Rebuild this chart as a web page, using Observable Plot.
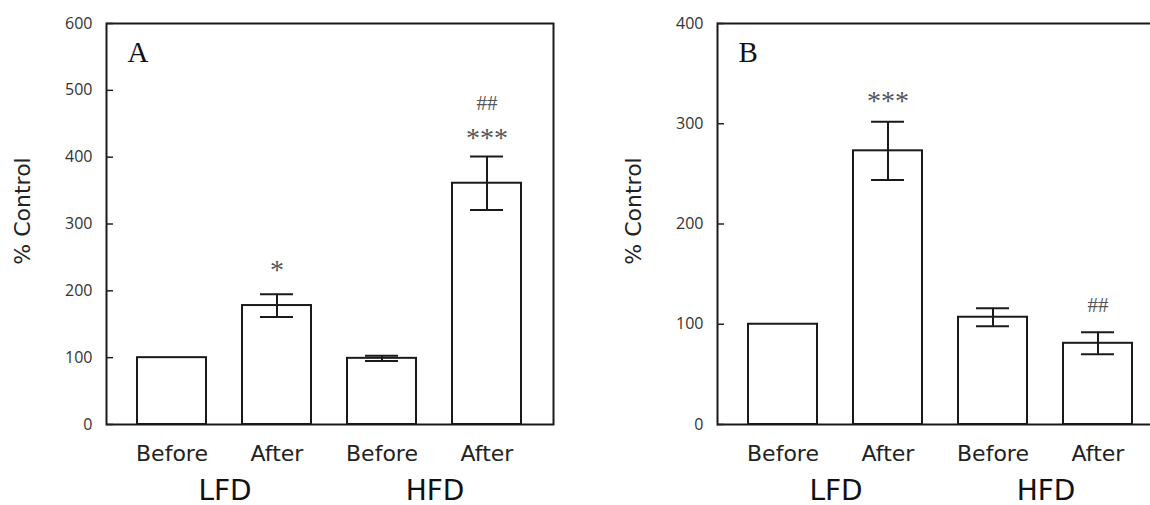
<!DOCTYPE html>
<html>
<head>
<meta charset="utf-8">
<script src="https://cdn.jsdelivr.net/npm/d3@7"></script>
<script src="https://cdn.jsdelivr.net/npm/@observablehq/plot@0.6"></script>
<style>
  html, body { margin: 0; padding: 0; background: #fff; overflow: hidden; width: 1150px; height: 505px; }
  #wrap { position: relative; width: 1150px; height: 505px; overflow: hidden; }
  .panel { position: absolute; top: 0; height: 505px; overflow: hidden; }
  .panel svg { max-width: none !important; overflow: hidden !important; display: block; }
  #panelA { left: 0; width: 575px; }
  #panelB { left: 611px; width: 539px; }
</style>
</head>
<body>
<div id="wrap">
  <div class="panel" id="panelA"></div>
  <div class="panel" id="panelB"></div>
</div>
<script>
// ---- data ----
const groups = ["LFD", "HFD"];
const times = ["Before", "After"];
const yLabel = "% Control";

const panelLetters = ["A", "B"];

const valuesA = [100, 178, 99, 361];
const semA = [0, 17, 4, 40];
const yTicksA = [0, 100, 200, 300, 400, 500, 600];
const yMaxA = 600;

const valuesB = [100, 273, 107, 81];
const semB = [0, 29, 9, 11];
const yTicksB = [0, 100, 200, 300, 400];
const yMaxB = 400;

// annotations: bar index, text, y value
const annBarA = [1, 3, 3];
const annTextA = ["*", "***", "##"];
const annYA = [240, 437, 480];

const annBarB = [1, 3];
const annTextB = ["***", "##"];
const annYB = [329, 119];

// ---- build ----
const keys = [];
const keyGroup = {};
const keyTime = {};
for (const g of groups) for (const t of times) {
  const k = g + "|" + t;
  keys.push(k); keyGroup[k] = g; keyTime[k] = t;
}

// panel B is cut by the page's right edge: its svg is narrower and its plot area runs past it
function makePanel(letter, values, sem, yTicks, yMax, annBar, annText, annY, width, marginRight) {
  const bars = keys.map((k, i) => ({key: k, value: values[i], sem: sem[i]}));
  const errs = bars.filter(d => d.sem > 0);
  const anns = annBar.map((b, i) => ({key: keys[b], text: annText[i], y: annY[i]}));
  const stars = anns.filter(d => d.text.includes("*"));
  const hashes = anns.filter(d => !d.text.includes("*"));
  const groupLabels = groups.map(g => ({key: g + "|" + times[0], text: g}));

  return Plot.plot({
    width,
    height: 505,
    marginLeft: 106,
    marginRight,
    marginTop: 23,
    marginBottom: 81,
    style: {background: "transparent", color: "#222", maxWidth: "none", overflow: "hidden"},
    x: {domain: keys, paddingInner: 0.34, paddingOuter: 0.28, label: null},
    y: {domain: [0, yMax], label: null},
    marks: [
      Plot.barY(bars, {x: "key", y: "value", fill: "white", stroke: "#1a1a1a", strokeWidth: 2}),
      Plot.ruleX(errs, {x: "key", y1: d => d.value - d.sem, y2: d => d.value + d.sem, stroke: "#1a1a1a", strokeWidth: 2}),
      Plot.tickY(errs, {x: "key", y: d => d.value + d.sem, stroke: "#1a1a1a", strokeWidth: 2, insetLeft: 18, insetRight: 18}),
      Plot.tickY(errs, {x: "key", y: d => d.value - d.sem, stroke: "#1a1a1a", strokeWidth: 2, insetLeft: 18, insetRight: 18}),
      Plot.text(stars, {x: "key", y: "y", text: "text", fontFamily: "Liberation Serif", fontSize: 28, fill: "#555", dy: 6}),
      Plot.text(hashes, {x: "key", y: "y", text: "text", fontFamily: "Liberation Serif", fontSize: 21, fill: "#555"}),
      Plot.frame({stroke: "#1a1a1a", strokeWidth: 2}),
      Plot.axisY({ticks: yTicks, tickSize: -7, tickPadding: 21, strokeWidth: 1.5, fontSize: 16, fontFamily: "Open Sans", fill: "#333", label: null}),
      Plot.axisX({tickSize: 0, tickPadding: 21, fontSize: 22, fontFamily: "DejaVu Sans", fill: "#222", tickFormat: k => keyTime[k], label: null}),
      Plot.text(groupLabels, {x: "key", text: "text", frameAnchor: "bottom", dx: 53, dy: 75, lineAnchor: "bottom", fontSize: 28, fontFamily: "DejaVu Sans", fill: "#111"}),
      Plot.text([yLabel], {text: d => d, frameAnchor: "left", textAnchor: "middle", lineAnchor: "middle", rotate: -90, dx: -84, dy: -13, fontSize: 22, fontFamily: "DejaVu Sans", fill: "#222"}),
      Plot.text([letter], {text: d => d, frameAnchor: "top-left", dx: 21, dy: 18, lineAnchor: "top", textAnchor: "start", fontSize: 29, fontFamily: "Liberation Serif", fill: "#111"})
    ]
  });
}

document.getElementById("panelA").appendChild(
  makePanel(panelLetters[0], valuesA, semA, yTicksA, yMaxA, annBarA, annTextA, annYA, 575, 22));
document.getElementById("panelB").appendChild(
  makePanel(panelLetters[1], valuesB, semB, yTicksB, yMaxB, annBarB, annTextB, annYB, 539, -14));
</script>
</body>
</html>
